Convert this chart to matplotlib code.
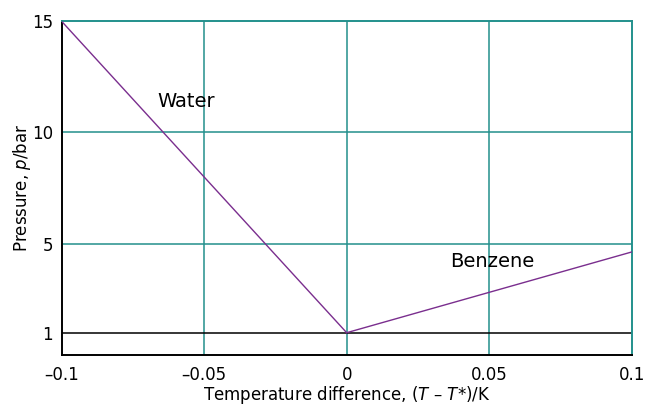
import matplotlib
matplotlib.use('Agg')
import matplotlib.pyplot as plt

# temperature difference (T - T*)/K and pressure p/bar
water_x = [-0.1, 0.0]
water_p = [15.0, 1.0]
benzene_x = [0.0, 0.1]
benzene_p = [1.0, 4.63]

xticks = [-0.1, -0.05, 0, 0.05, 0.1]
xticklabels = ['\u20130.1', '\u20130.05', '0', '0.05', '0.1']
yticks = [1, 5, 10, 15]

teal = '#23908c'
purple = '#7a2e8e'

plt.rcParams['font.family'] = ['DejaVu Sans']
plt.rcParams['mathtext.fontset'] = 'dejavusans'

fig, ax = plt.subplots(figsize=(6.48, 4.08), dpi=100)
fig.subplots_adjust(left=0.095, right=0.975, top=0.948, bottom=0.13)

# grid lines
for gx in [-0.05, 0, 0.05]:
    ax.axvline(gx, color=teal, lw=1.1, zorder=1)
for gy in [5, 10]:
    ax.axhline(gy, color=teal, lw=1.1, zorder=1)
ax.axhline(1, color='black', lw=1.1, zorder=1)

ax.plot(water_x, water_p, color=purple, lw=1.0, zorder=3)
ax.plot(benzene_x, benzene_p, color=purple, lw=1.0, zorder=3)

ax.text(-0.0665, 11.37, 'Water', fontsize=14, va='center', ha='left')
ax.text(0.0364, 4.2, 'Benzene', fontsize=14, va='center', ha='left')

ax.set_xlim(-0.1, 0.1)
ax.set_ylim(0, 15)
ax.set_xticks(xticks)
ax.set_xticklabels(xticklabels)
ax.set_yticks(yticks)
ax.tick_params(axis='x', length=0, labelsize=12, pad=8)
ax.tick_params(axis='y', length=0, labelsize=12, pad=6)

for s in ['top', 'right']:
    ax.spines[s].set_color(teal)
    ax.spines[s].set_linewidth(1.4)
for s in ['left', 'bottom']:
    ax.spines[s].set_color('black')
    ax.spines[s].set_linewidth(1.4)

ax.set_xlabel('Temperature difference, ($T$ \u2013 $T$*)/K', fontsize=12, labelpad=0)
ax.set_ylabel('Pressure, $p$/bar', fontsize=12)
ax.yaxis.set_label_coords(-0.05, 0.5)

fig.savefig('out.png', dpi=100)
